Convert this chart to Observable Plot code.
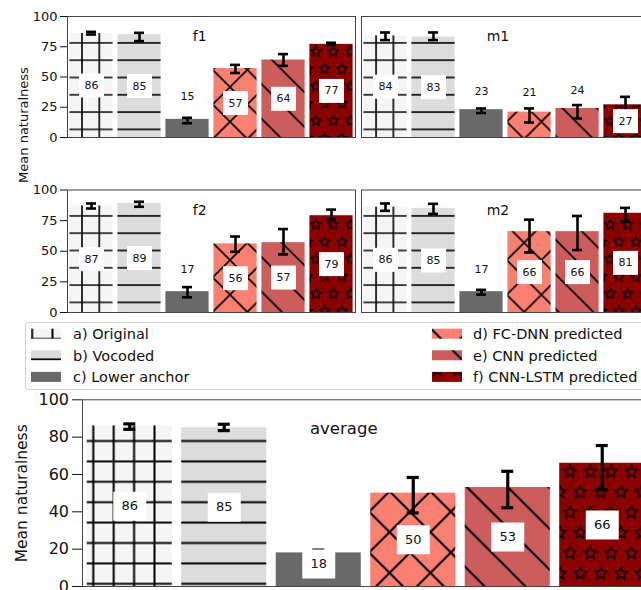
<!DOCTYPE html>
<html><head><meta charset="utf-8">
<script src="https://cdn.jsdelivr.net/npm/d3@7"></script>
<script src="https://cdn.jsdelivr.net/npm/@observablehq/plot@0.6"></script>
<style>
body{margin:0;background:#fff;}
#root{position:relative;width:641px;height:590px;overflow:hidden;background:#fff;font-family:"DejaVu Sans";}
#root svg{position:absolute;left:0;top:0;}
</style></head><body><div id="root"></div>
<script>
// ---------- data ----------
const categories = ["a) Original", "b) Vocoded", "c) Lower anchor", "d) FC-DNN predicted", "e) CNN predicted", "f) CNN-LSTM predicted"];
const f1Mean = [86, 85, 15, 57, 64, 77];
const f1Low  = [85.1, 79.7, 11.8, 53.3, 59.2, 76.6];
const f1High = [87.3, 86.5, 16.3, 60.0, 68.9, 78.3];
const m1Mean = [84, 83, 23, 21, 24, 27];
const m1Low  = [80.5, 80.5, 20.2, 12.4, 15.7, 20.7];
const m1High = [86.8, 86.8, 24.0, 24.0, 26.8, 33.6];
const f2Mean = [87, 89, 17, 56, 57, 79];
const f2Low  = [84.9, 86.3, 12.4, 49.6, 47.4, 75.8];
const f2High = [89.0, 90.4, 20.7, 62.0, 68.1, 84.0];
const m2Mean = [86, 85, 17, 66, 66, 81];
const m2Low  = [83.0, 80.5, 14.6, 49.0, 51.0, 74.4];
const m2High = [89.0, 88.7, 18.5, 75.8, 78.8, 85.4];
const avgMean = [86, 85, 18, 50, 53, 66];
const avgLow  = [84.2, 83.5, 16.0, 39.4, 42.2, 51.9];
const avgHigh = [87.1, 86.9, 19.5, 58.4, 61.7, 75.5];
const smallTicks = [0, 25, 50, 75, 100];
const avgTicks = [0, 20, 40, 60, 80, 100];
const yLabel = "Mean naturalness";

// ---------- styles ----------
const barColors = ["#f5f5f5", "#dcdcdc", "#696969", "#fa8072", "#cd5c5c", "#8b0000"];
const W = 660, H = 590;
const root = document.getElementById("root");
const NS = "http://www.w3.org/2000/svg";

function starPath(cx, cy, R) {
  let d = "";
  for (let k = 0; k < 10; k++) {
    const rad = k % 2 ? R * 0.5 : R;
    const a = -Math.PI / 2 + k * Math.PI / 5;
    d += (k ? "L" : "M") + (cx + rad * Math.cos(a)).toFixed(2) + "," + (cy + rad * Math.sin(a)).toFixed(2);
  }
  return d + "Z";
}

function patternDefs(p, S, ph, lw, R, slw) {
  const D = 2 * S;
  const st = `stroke="#000" stroke-width="${lw}" fill="none"`;
  let s = "";
  s += `<pattern id="${p}-0" patternUnits="userSpaceOnUse" x="${ph.gx - S / 2}" y="${ph.gy - S / 2}" width="${S}" height="${S}"><rect width="${S}" height="${S}" fill="${barColors[0]}"/><path d="M${S / 2},0V${S}M0,${S / 2}H${S}" ${st}/></pattern>`;
  s += `<pattern id="${p}-1" patternUnits="userSpaceOnUse" x="0" y="${ph.gy - S / 2}" width="${S}" height="${S}"><rect width="${S}" height="${S}" fill="${barColors[1]}"/><path d="M0,${S / 2}H${S}" ${st}/></pattern>`;
  s += `<pattern id="${p}-2" patternUnits="userSpaceOnUse" x="0" y="0" width="${S}" height="${S}"><rect width="${S}" height="${S}" fill="${barColors[2]}"/></pattern>`;
  const back = `M-1,-1L${D + 1},${D + 1}M${D - 1},-1L${D + 1},1M-1,${D - 1}L1,${D + 1}`;
  const fwd = `M-1,${D + 1}L${D + 1},-1M-1,1L1,-1M${D - 1},${D + 1}L${D + 1},${D - 1}`;
  const ox = (ph.bs + ph.fs - D) / 2, oy = ox - ph.bs;
  s += `<pattern id="${p}-3" patternUnits="userSpaceOnUse" x="${ox}" y="${oy}" width="${D}" height="${D}"><rect width="${D}" height="${D}" fill="${barColors[3]}"/><path d="${back}${fwd}" ${st}/></pattern>`;
  s += `<pattern id="${p}-4" patternUnits="userSpaceOnUse" x="${ph.bs}" y="0" width="${D}" height="${D}"><rect width="${D}" height="${D}" fill="${barColors[4]}"/><path d="${back}" ${st}/></pattern>`;
  const stars = starPath(S / 2, S / 2, R) + starPath(0, 1.5 * S, R) + starPath(S, 1.5 * S, R);
  s += `<pattern id="${p}-5" patternUnits="userSpaceOnUse" x="${ph.sx - S / 2}" y="${ph.sy - S / 2}" width="${S}" height="${D}"><rect width="${S}" height="${D}" fill="${barColors[5]}"/><path d="${stars}" stroke="#000" stroke-width="${slw}" fill="none"/></pattern>`;
  return s;
}

const defsSvg = document.createElementNS(NS, "svg");
defsSvg.setAttribute("width", "0"); defsSvg.setAttribute("height", "0");
defsSvg.innerHTML = "<defs>" +
  patternDefs("t", 17.3, {gx: 12.8, gy: 8.3, bs: 4.5, fs: 5.7, sx: 4.6, sy: 17.1}, 1.6, 5.3, 1.2) +
  patternDefs("b", 20.4, {gx: 11.7, gy: 12.6, bs: 20.7, fs: 24.1, sx: 19.2, sy: 22.9}, 2.0, 6.3, 1.4) +
  "</defs>";
root.appendChild(defsSvg);

function boxSymbol(w, h) {
  return {draw(ctx) { ctx.moveTo(-w / 2, -h / 2); ctx.lineTo(w / 2, -h / 2); ctx.lineTo(w / 2, h / 2); ctx.lineTo(-w / 2, h / 2); ctx.closePath(); }};
}

function panel(cfg) {
  const data = categories.map((c, i) => ({cat: c, i, v: cfg.mean[i], lo: cfg.low[i], hi: cfg.high[i]}));
  const step = (cfg.right - cfg.left) / categories.length;
  const bw = step * 0.9;
  const capInset = (bw - cfg.cap) / 2;
  const marks = [
    Plot.barY(data, {x: "cat", y: "v", fill: d => `url(#${cfg.pat}-${d.i})`}),
    Plot.ruleX(data, {x: "cat", y1: "lo", y2: "hi", stroke: "#000", strokeWidth: cfg.ew}),
    Plot.tickY(data, {x: "cat", y: "lo", stroke: "#000", strokeWidth: cfg.ew, insetLeft: capInset, insetRight: capInset}),
    Plot.tickY(data, {x: "cat", y: "hi", stroke: "#000", strokeWidth: cfg.ew, insetLeft: capInset, insetRight: capInset}),
    Plot.dot(data, {x: "cat", y: cfg.labelY, symbol: boxSymbol(cfg.boxW, cfg.boxH), fill: "#fff"}),
    Plot.text(data, {x: "cat", y: cfg.labelY, text: d => String(d.v), fontSize: cfg.labelSize, fill: "#111"}),
    Plot.frame({stroke: "#444"}),
    Plot.text([cfg.title], {x: () => categories[2], frameAnchor: "top", dy: cfg.titleDy, dx: cfg.titleDx, textAnchor: cfg.titleAnchor, fontSize: cfg.titleSize, fill: "#111"})
  ];
  if (cfg.ticks) marks.push(Plot.axisY({ticks: cfg.ticks, tickSize: cfg.tickSize, tickPadding: cfg.tickPad, fontSize: cfg.tickFont, label: null, color: "#111"}));
  const chart = Plot.plot({
    width: W, height: H,
    marginLeft: cfg.left, marginRight: W - cfg.right, marginTop: cfg.top, marginBottom: H - cfg.bottom,
    x: {domain: categories, paddingInner: 0.1, paddingOuter: 0.05, round: false, axis: null},
    y: cfg.ticks ? {domain: [0, 100]} : {domain: [0, 100], axis: null},
    color: {type: "identity"},
    style: {background: "none", maxWidth: "none", fontFamily: "DejaVu Sans", position: "absolute", left: "0px", top: "0px"},
    marks
  });
  root.appendChild(chart);
}

const smallLabelY = d => d.v < 25 ? d.v / 2 + 26.6 : d.v / 2;
const small = {pat: "t", cap: 10, ew: 2.6, boxW: 25, boxH: 24, labelSize: 11, labelY: smallLabelY,
  titleDy: 14.8, titleDx: 5.2, titleAnchor: "start", titleSize: 14, tickSize: 7, tickPad: 3, tickFont: 13};

panel({...small, title: "f1", mean: f1Mean, low: f1Low, high: f1High, left: 67, right: 355, top: 16, bottom: 137, ticks: smallTicks});
panel({...small, title: "m1", mean: m1Mean, low: m1Low, high: m1High, left: 361, right: 649, top: 16, bottom: 137});
panel({...small, title: "f2", mean: f2Mean, low: f2Low, high: f2High, left: 67, right: 355, top: 189.5, bottom: 312, ticks: smallTicks});
panel({...small, title: "m2", mean: m2Mean, low: m2Low, high: m2High, left: 361, right: 649, top: 189.5, bottom: 312});

// legend (part of the lower figure) and y-axis titles
const leg = document.createElementNS(NS, "svg");
leg.setAttribute("width", W); leg.setAttribute("height", H);
let lh = `<rect x="25.5" y="322.5" width="700" height="67" rx="3" fill="#fff" stroke="#cfcfcf"/>`;
categories.forEach((c, i) => {
  const col = i < 3 ? 0 : 1, row = i % 3;
  const yc = 333.7 + row * 21.6;
  const px = col ? 432 : 31, tx = col ? 473 : 73;
  lh += `<rect x="${px}" y="${yc - 5}" width="30" height="10" fill="url(#b-${i})"/>`;
  lh += `<text x="${tx}" y="${yc}" dy="0.36em" font-family="DejaVu Sans" font-size="14.5" fill="#111">${c}</text>`;
});
lh += `<text transform="translate(23.8,125) rotate(-90)" text-anchor="middle" dy="0.32em" font-family="DejaVu Sans" font-size="13" fill="#111">${yLabel}</text>`;
lh += `<text transform="translate(22.3,493.3) rotate(-90)" text-anchor="middle" dy="0.32em" font-family="DejaVu Sans" font-size="15.5" fill="#111">${yLabel}</text>`;
leg.innerHTML = lh;
root.appendChild(leg);

panel({pat: "b", cap: 12, ew: 3.2, boxW: 33, boxH: 29, labelSize: 13, labelY: d => Math.max(d.v / 2, 12),
  titleDy: 22.1, titleDx: 25, titleAnchor: "middle", titleSize: 16.5, tickSize: 10, tickPad: 3.5, tickFont: 16,
  title: "average", mean: avgMean, low: avgLow, high: avgHigh, left: 82, right: 649, top: 399.3, bottom: 586, ticks: avgTicks});
</script></body></html>
